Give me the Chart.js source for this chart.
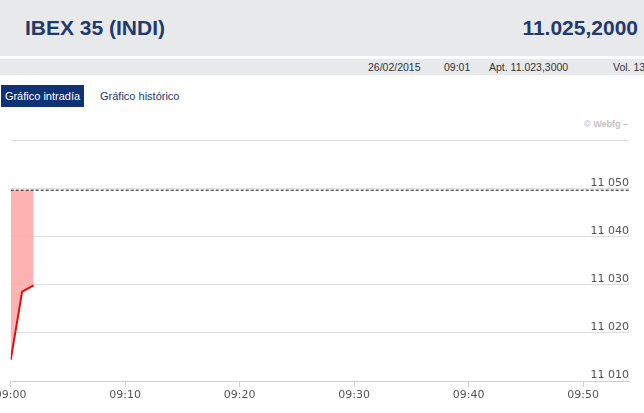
<!DOCTYPE html>
<html>
<head>
<meta charset="utf-8">
<script src="https://cdn.jsdelivr.net/npm/chart.js@4"></script>
<style>
  html, body { margin:0; padding:0; background:#fff; width:644px; height:413px; overflow:hidden; position:relative; font-family:"Liberation Sans", Arial, sans-serif; }
  .abs { position:absolute; white-space:nowrap; }
  #band1 { left:0; top:0; width:644px; height:56px; background:#e8e9eb; }
  #band2 { left:0; top:59px; width:644px; height:16px; background:#e8e9eb; }
  #title { left:25px; top:0; line-height:56px; font-size:21px; font-weight:bold; color:#1f3a6b; }
  #price { right:6px; top:0; line-height:56px; font-size:21px; font-weight:bold; color:#1f3a6b; }
  .info { top:59px; line-height:16px; font-size:10.5px; color:#333; }
  #tab1 { left:1px; top:85px; width:83px; height:22px; background:#0d3275; color:#fff; font-size:11px; line-height:22px; text-align:center; }
  #tab2 { left:100px; top:85px; height:22px; color:#1f3a6b; font-size:11px; line-height:22px; }
  #webfg { left:584px; top:117px; font-size:9px; font-weight:bold; color:#c4c4c4; line-height:14px; }
  #chartBox { position:absolute; left:0; top:112px; width:644px; height:301px; }
</style>
</head>
<body>
<div class="abs" id="band1"></div>
<div class="abs" id="band2"></div>
<div class="abs" id="title">IBEX 35 (INDI)</div>
<div class="abs" id="price">11.025,2000</div>
<div class="abs info" style="left:368px">26/02/2015</div>
<div class="abs info" style="left:444px">09:01</div>
<div class="abs info" style="left:489px">Apt. 11.023,3000</div>
<div class="abs info" style="left:613px">Vol. 13</div>
<div class="abs" id="tab1">Gráfico intradía</div>
<div class="abs" id="tab2">Gráfico histórico</div>
<div class="abs" id="webfg">© Webfg –</div>
<div id="chartBox"><canvas id="c"></canvas></div>
<script>
// minutes after 09:00
const minutes = [0, 1, 2];
const prices = [11014.4, 11028.6, 11029.9];
const prevClose = 11049.7;
const xRange = [0, 54];
const xTicks = [0, 10, 20, 30, 40, 50];
const yTicks = [11010, 11020, 11030, 11040, 11050, 11060];
const yLabelled = [11010, 11020, 11030, 11040, 11050];

const lineData = minutes.map((m, i) => ({x: m, y: prices[i]}));
const refData = xRange.map(m => ({x: m, y: prevClose}));

const tickFont = {family: "DejaVu Sans", size: 11};

new Chart(document.getElementById('c'), {
  type: 'line',
  data: {
    datasets: [
      {
        data: lineData,
        borderColor: '#dd1010',
        borderWidth: 2,
        backgroundColor: 'rgba(255,170,170,0.9)',
        fill: {value: prevClose},
        pointRadius: 0,
        tension: 0,
        order: 2
      },
      {
        data: refData,
        borderColor: '#111',
        borderWidth: 1,
        borderDash: [3, 2],
        fill: false,
        pointRadius: 0,
        order: 1
      }
    ]
  },
  options: {
    responsive: true,
    maintainAspectRatio: false,
    animation: false,
    layout: { padding: { left: 10.7, right: 15, top: 28.7, bottom: 8.8 } },
    plugins: { legend: { display: false }, tooltip: { enabled: false } },
    scales: {
      x: {
        type: 'linear',
        min: xRange[0],
        max: xRange[1],
        afterFit: (s) => { s.paddingLeft = 0; s.paddingRight = 0; },
        afterBuildTicks: (s) => { s.ticks = xTicks.map(v => ({value: v})); },
        ticks: {
          autoSkip: false,
          maxRotation: 0,
          padding: 2,
          color: '#555',
          font: tickFont,
          callback: (v) => '09:' + String(v).padStart(2, '0')
        },
        grid: { drawOnChartArea: false, drawTicks: true, tickLength: 6, color: '#c5d3e0' },
        border: { display: true, color: '#c5d3e0', width: 1 }
      },
      y: {
        position: 'right',
        min: 11010,
        max: 11060,
        afterBuildTicks: (s) => { s.ticks = yTicks.map(v => ({value: v})); },
        ticks: {
          mirror: true,
          padding: 0,
          labelOffset: -6,
          color: '#555',
          font: tickFont,
          callback: (v) => yLabelled.includes(v) ? String(v).replace(/\B(?=(\d{3})+(?!\d))/g, ' ') : ''
        },
        grid: {
          drawTicks: false,
          color: (ctx) => (ctx.tick && ctx.tick.value === 11010) ? 'rgba(0,0,0,0)' : '#dedede'
        },
        border: { display: false }
      }
    }
  }
});
</script>
</body>
</html>
